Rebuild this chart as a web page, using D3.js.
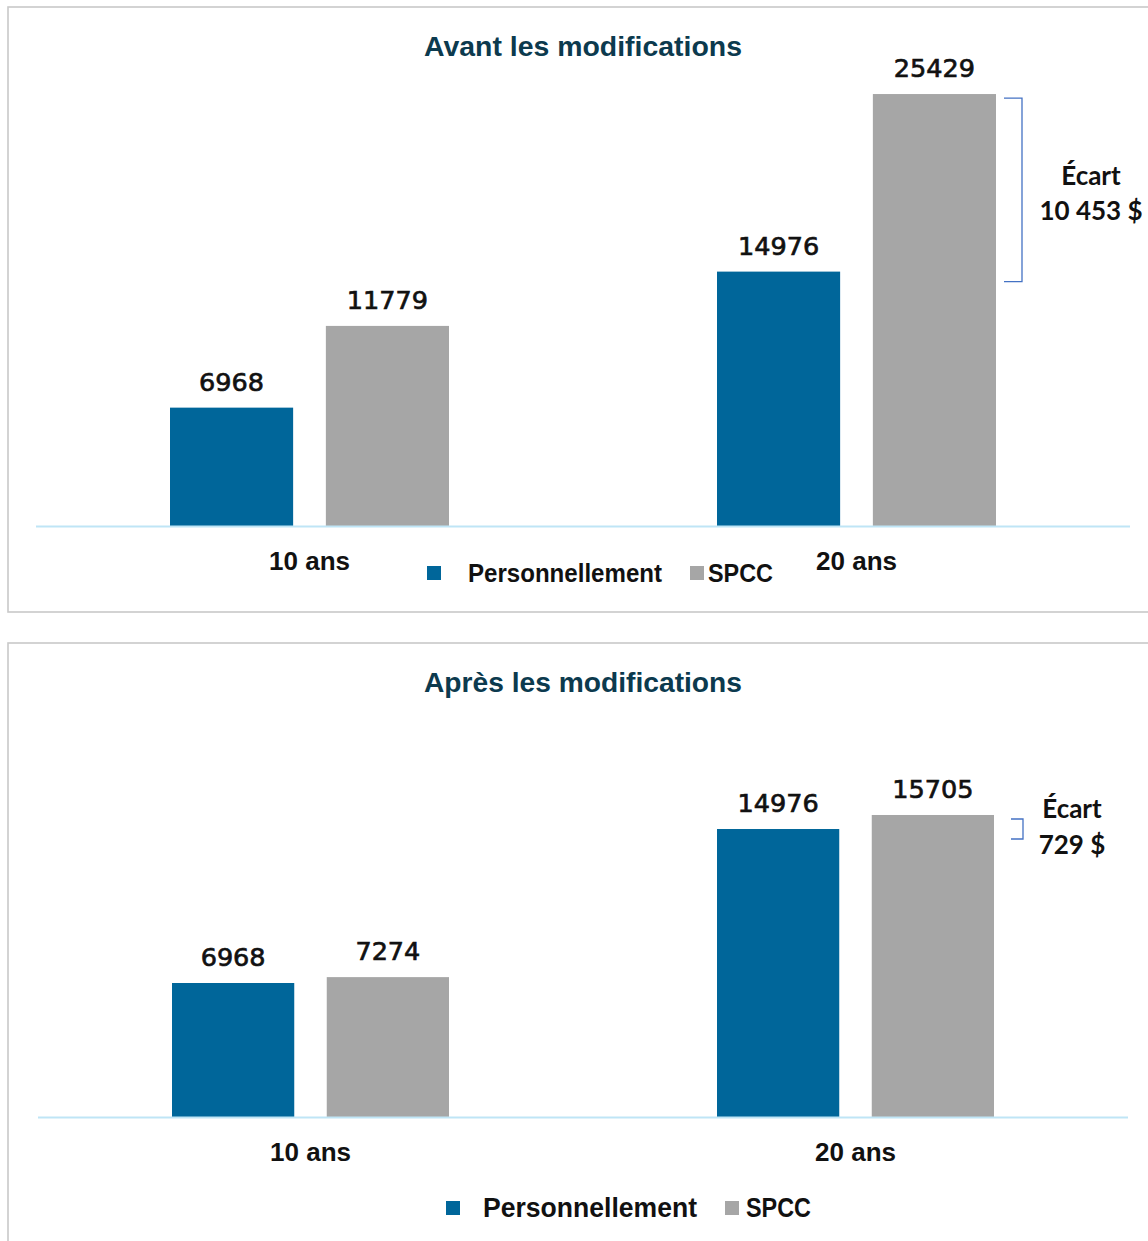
<!DOCTYPE html>
<html lang="fr">
<head>
<meta charset="utf-8">
<script src="https://cdnjs.cloudflare.com/ajax/libs/d3/7.8.5/d3.min.js"></script>
<style>
  html, body { margin: 0; padding: 0; background: #ffffff; }
  svg { display: block; }
</style>
</head>
<body>
<svg id="chart" width="1148" height="1241"></svg>
<script>
// Coût cumulé sur 10 et 20 ans, avant et après les modifications
const categories = ["10 ans", "20 ans"];
const series = ["Personnellement", "SPCC"];
const avantPersonnellement = [6968, 14976];
const avantSPCC = [11779, 25429];
const apresPersonnellement = [6968, 14976];
const apresSPCC = [7274, 15705];
const panelTitles = ["Avant les modifications", "Après les modifications"];
const gapWord = "Écart";

const colors = { "Personnellement": "#00669a", "SPCC": "#a6a6a6" };
const fr = d3.formatLocale({ decimal: ",", thousands: " ", grouping: [3], currency: ["", " $"] });
const fmtGap = fr.format(",d");

const svg = d3.select("#chart");

const panels = [
  {
    title: panelTitles[0], pers: avantPersonnellement, spcc: avantSPCC,
    box: { x: 8, y: 7, w: 1160, h: 605 },
    titleY: 56, baseY: 526, yMax: 30000, yTop: 16.4, xLeft: 36, xRight: 1130,
    inner: [134, 413],
    catDy: 44, catSize: 25,
    legend: { y: 573, sq1: 427, t1: 468, w1: 194, sq2: 690, t2: 708, w2: 65, size: 25 },
    bracketX: [1004, 1022], gapX: 1091, gapY: [185, 220]
  },
  {
    title: panelTitles[1], pers: apresPersonnellement, spcc: apresSPCC,
    box: { x: 8, y: 643, w: 1160, h: 620 },
    titleY: 692, baseY: 1117, yMax: 20000, yTop: 732.4, xLeft: 38, xRight: 1128,
    inner: [134, 411],
    catDy: 44, catSize: 25,
    legend: { y: 1208, sq1: 446, t1: 483, w1: 214, sq2: 725, t2: 746, w2: 65, size: 27 },
    bracketX: [1011, 1023], gapX: 1072, gapY: [818, 854]
  }
];

panels.forEach(p => {
  const g = svg.append("g");

  // cadre du panneau
  g.append("rect")
    .attr("x", p.box.x).attr("y", p.box.y)
    .attr("width", p.box.w).attr("height", p.box.h)
    .attr("fill", "#ffffff").attr("stroke", "#c9c9c9").attr("stroke-width", 1.6);

  // titre
  g.append("text")
    .attr("x", 583).attr("y", p.titleY)
    .attr("text-anchor", "middle")
    .attr("font-family", "'Liberation Sans', Arial, sans-serif")
    .attr("font-weight", "bold").attr("font-size", 27)
    .attr("textLength", 318).attr("lengthAdjust", "spacingAndGlyphs")
    .attr("fill", "#0c3a4e")
    .text(p.title);

  const x0 = d3.scaleBand().domain(categories).range([p.xLeft, p.xRight]).padding(0);
  const x1 = d3.scaleBand().domain(series).range(p.inner).paddingInner(0.21).paddingOuter(0);
  const y = d3.scaleLinear().domain([0, p.yMax]).range([p.baseY, p.yTop]);

  const rows = categories.map((c, i) => ({ cat: c, values: [
    { key: series[0], value: p.pers[i] },
    { key: series[1], value: p.spcc[i] }
  ]}));

  const grp = g.selectAll("g.cat").data(rows).join("g")
    .attr("class", "cat")
    .attr("transform", d => `translate(${x0(d.cat)},0)`);

  grp.selectAll("rect").data(d => d.values).join("rect")
    .attr("x", d => x1(d.key))
    .attr("y", d => y(d.value))
    .attr("width", x1.bandwidth())
    .attr("height", d => p.baseY - y(d.value))
    .attr("fill", d => colors[d.key]);

  grp.selectAll("text.val").data(d => d.values).join("text")
    .attr("class", "val")
    .attr("x", d => x1(d.key) + x1.bandwidth() / 2)
    .attr("y", d => y(d.value) - 17)
    .attr("text-anchor", "middle")
    .attr("font-family", "'DejaVu Sans', sans-serif")
    .attr("font-size", 25.5)
    .attr("fill", "#111")
    .attr("stroke", "#111").attr("stroke-width", 0.7)
    .text(d => d.value);

  // ligne de base
  g.append("line")
    .attr("x1", p.xLeft).attr("x2", p.xRight)
    .attr("y1", p.baseY + 0.5).attr("y2", p.baseY + 0.5)
    .attr("stroke", "#bfe5f6").attr("stroke-width", 2);

  // étiquettes de catégories
  g.selectAll("text.cat").data(categories).join("text")
    .attr("class", "cat")
    .attr("x", d => x0(d) + x0.bandwidth() / 2)
    .attr("y", p.baseY + p.catDy)
    .attr("text-anchor", "middle")
    .attr("font-family", "'Liberation Sans Narrow', 'Liberation Sans', Arial, sans-serif")
    .attr("font-weight", "bold")
    .attr("font-size", p.catSize)
    .attr("textLength", 81).attr("lengthAdjust", "spacingAndGlyphs")
    .attr("fill", "#111")
    .text(d => d);

  // légende
  const L = p.legend;
  const sq = 14;
  [[series[0], L.sq1, L.t1, L.w1], [series[1], L.sq2, L.t2, L.w2]].forEach(([s, sx, tx, tw]) => {
    g.append("rect").attr("x", sx).attr("y", L.y - sq / 2).attr("width", sq).attr("height", sq)
      .attr("fill", colors[s]);
    g.append("text")
      .attr("x", tx).attr("y", L.y + 9)
      .attr("font-family", "'Liberation Sans Narrow', 'Liberation Sans', Arial, sans-serif")
      .attr("font-weight", "bold").attr("font-size", L.size)
      .attr("textLength", tw).attr("lengthAdjust", "spacingAndGlyphs")
      .attr("fill", "#111")
      .text(s);
  });

  // accolade de l'écart sur 20 ans
  const hi = y(p.spcc[1]) + 4;
  const lo = y(p.pers[1]) + 10;
  const [bx0, bx1] = p.bracketX;
  g.append("path")
    .attr("d", `M${bx0},${hi} H${bx1} V${lo} H${bx0}`)
    .attr("fill", "none").attr("stroke", "#4472c4").attr("stroke-width", 1.3);

  const gap = p.spcc[1] - p.pers[1];
  const gt = g.append("text")
    .attr("text-anchor", "middle")
    .attr("font-family", "Lato, 'Open Sans', sans-serif")
    .attr("font-weight", "bold").attr("font-size", 26)
    .attr("fill", "#111");
  gt.append("tspan").attr("x", p.gapX).attr("y", p.gapY[0]).text(gapWord);
  gt.append("tspan").attr("x", p.gapX).attr("y", p.gapY[1]).text(fmtGap(gap) + " $");
});
</script>
</body>
</html>
